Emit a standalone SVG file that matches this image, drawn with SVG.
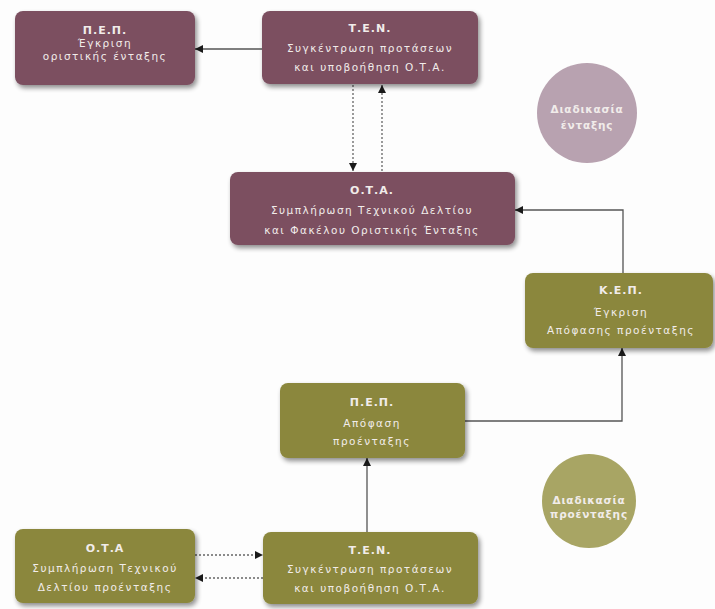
<svg xmlns="http://www.w3.org/2000/svg" width="715" height="609" viewBox="0 0 715 609">
<defs>
<filter id="sh" x="-10%" y="-15%" width="125%" height="140%">
<feGaussianBlur in="SourceAlpha" stdDeviation="2.5"/>
<feOffset dx="2" dy="3" result="b"/>
<feComponentTransfer><feFuncA type="linear" slope="0.45"/></feComponentTransfer>
<feMerge><feMergeNode/><feMergeNode in="SourceGraphic"/></feMerge>
</filter>
<marker id="ah" viewBox="0 0 10 10" refX="10" refY="5" markerWidth="8" markerHeight="8" markerUnits="userSpaceOnUse" orient="auto">
<path d="M0,0 L10,5 L0,10 z" fill="#1a1a1a"/>
</marker>
</defs>
<style>
.m{fill:#7b5060;filter:url(#sh)}
.o{fill:#8b873d;filter:url(#sh)}
.cm{fill:#b8a2b0}
.co{fill:#a8a564}
text{font-family:"DejaVu Sans","Liberation Sans",sans-serif;fill:#f1ecea;text-anchor:middle}
.t{font-size:11px;font-weight:bold;letter-spacing:1px}
.b{font-size:10.5px;letter-spacing:1.5px}
.c{font-size:10.5px;font-weight:bold;letter-spacing:0.8px}
.ln{fill:none;stroke:#555;stroke-width:1.3;marker-end:url(#ah)}
.dt{fill:none;stroke:#666;stroke-width:1.3;stroke-dasharray:2,2;marker-end:url(#ah)}
</style>
<rect width="715" height="609" fill="#fdfdfd"/>
<g id="connectors">
<path class="ln" d="M262,49 L195,49"/>
<path class="dt" d="M353,85 L353,171"/>
<path class="dt" d="M382,171 L382,85"/>
<path class="ln" d="M623,273 L623,210 L515,210"/>
<path class="ln" d="M465,421 L622,421 L622,348"/>
<path class="ln" d="M367,532 L367,458"/>
<path class="dt" d="M195,555 L263,555"/>
<path class="dt" d="M263,578 L195,578"/>
</g>
<g id="pep-top">
<rect class="m" x="15" y="11" width="180" height="74" rx="8"/>
<text class="t" x="105" y="34">Π.Ε.Π.</text>
<text class="b" x="105" y="47">Έγκριση</text>
<text class="b" x="105" y="60">οριστικής ένταξης</text>
</g>
<g id="ten-top">
<rect class="m" x="262" y="11" width="216" height="73" rx="8"/>
<text class="t" x="370" y="32">Τ.Ε.Ν.</text>
<text class="b" x="370" y="52">Συγκέντρωση προτάσεων</text>
<text class="b" x="370" y="71">και υποβοήθηση Ο.Τ.Α.</text>
</g>
<g id="circle-entaxis">
<circle class="cm" cx="587" cy="113" r="50"/>
<text class="c" x="587" y="113">Διαδικασία</text>
<text class="c" x="587" y="129">ένταξης</text>
</g>
<g id="ota-mid">
<rect class="m" x="230" y="172" width="285" height="73" rx="8"/>
<text class="t" x="372" y="194">Ο.Τ.Α.</text>
<text class="b" x="372" y="214">Συμπλήρωση Τεχνικού Δελτίου</text>
<text class="b" x="372" y="234">και Φακέλου Οριστικής Ένταξης</text>
</g>
<g id="kep">
<rect class="o" x="525" y="273" width="188" height="75" rx="8"/>
<text class="t" x="621" y="294">Κ.Ε.Π.</text>
<text class="b" x="621" y="316">Έγκριση</text>
<text class="b" x="621" y="334">Απόφασης προένταξης</text>
</g>
<g id="pep-mid">
<rect class="o" x="280" y="383" width="185" height="75" rx="8"/>
<text class="t" x="372" y="406">Π.Ε.Π.</text>
<text class="b" x="372" y="427">Απόφαση</text>
<text class="b" x="372" y="445">προένταξης</text>
</g>
<g id="circle-proentaxis">
<circle class="co" cx="589" cy="501" r="47"/>
<text class="c" x="589" y="504">Διαδικασία</text>
<text class="c" x="589" y="518">προένταξης</text>
</g>
<g id="ota-bottom">
<rect class="o" x="15" y="529" width="180" height="74" rx="8"/>
<text class="t" x="105" y="552">Ο.Τ.Α</text>
<text class="b" x="105" y="572">Συμπλήρωση Τεχνικού</text>
<text class="b" x="105" y="591">Δελτίου προένταξης</text>
</g>
<g id="ten-bottom">
<rect class="o" x="263" y="532" width="215" height="72" rx="8"/>
<text class="t" x="370" y="554">Τ.Ε.Ν.</text>
<text class="b" x="370" y="573">Συγκέντρωση προτάσεων</text>
<text class="b" x="370" y="592">και υποβοήθηση Ο.Τ.Α.</text>
</g>
</svg>
